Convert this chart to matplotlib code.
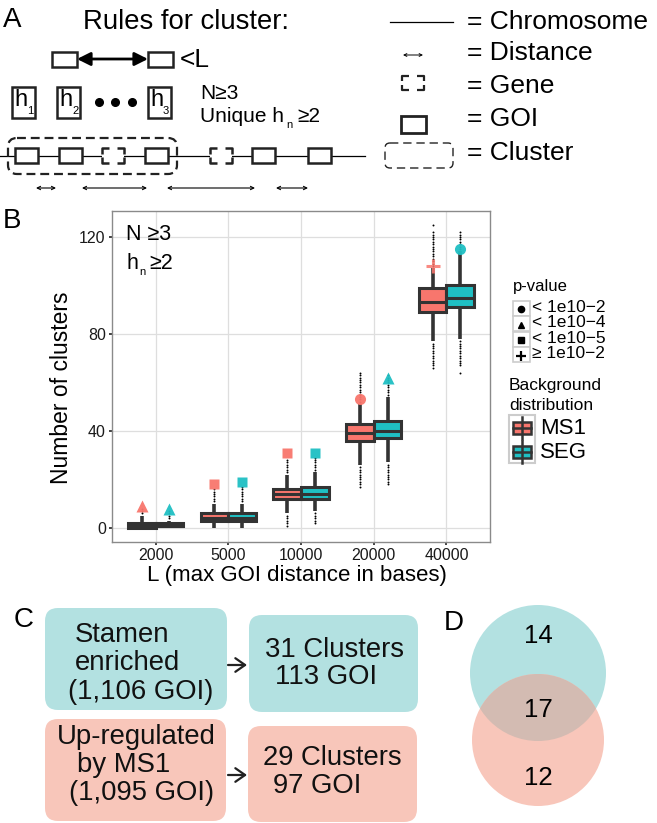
import numpy as np
import matplotlib
matplotlib.use('Agg')
import matplotlib.pyplot as plt
from matplotlib.patches import Rectangle, FancyBboxPatch, Circle

plt.rcParams['font.family'] = ['Liberation Sans', 'DejaVu Sans']
plt.rcParams['mathtext.default'] = 'regular'

# colours
MS1_COL = '#F8766D'
SEG_COL = '#1FBFC3'
DARK = '#333333'
TEAL_LIGHT = '#B3E1E1'
SALMON_LIGHT = '#F8C6BA'
OVERLAP = '#D3BBB2'

# ---- panel B data (number of clusters per max distance L) ----
L_labels = ['2000', '5000', '10000', '20000', '40000']

ms1_q1 = [0, 3, 12, 36, 89]
ms1_med = [1, 4, 14, 39, 93]
ms1_q3 = [2, 6, 16, 43, 99]
ms1_whislo = [0, 0, 6, 26, 77]
ms1_whishi = [5, 10, 22, 51, 107]
# outlier count ranges (low, high) -- counts are integers
ms1_out_low = [None, None, (1, 5), (17, 25), (66, 76)]
ms1_out_high = [(6, 8), (11, 16), (23, 28), (52, 64), (108, 122)]
ms1_out_extra = [[], [], [], [], [125]]

seg_q1 = [1, 3, 12, 37, 91]
seg_med = [1, 4, 14, 40, 95]
seg_q3 = [2, 6, 17, 44, 100]
seg_whislo = [0, 0, 7, 27, 78]
seg_whishi = [3, 10, 23, 54, 114]
seg_out_low = [None, None, (2, 6), (18, 26), (67, 77)]
seg_out_high = [(4, 7), (11, 17), (24, 29), (55, 63), (115, 122)]
seg_out_extra = [[], [], [], [], [64]]

# observed cluster counts with p-value class
ms1_obs = [9, 18, 31, 53, 108]
ms1_pclass = ['^', 's', 's', 'o', '+']
seg_obs = [8, 19, 31, 62, 115]
seg_pclass = ['^', 's', 's', '^', 'o']

p_labels = ['< 1e10\u22122', '< 1e10\u22124', '< 1e10\u22125', '\u2265 1e10\u22122']
p_markers = ['o', '^', 's', '+']

# ---- panel C / D data ----
venn_counts = [14, 17, 12]


def make_stats(q1, med, q3, lo, hi, out_low, out_high, extra):
    stats = []
    for i in range(len(q1)):
        fl = list(extra[i])
        for rng in (out_low[i], out_high[i]):
            if rng is not None:
                fl += list(range(rng[0], rng[1] + 1))
        stats.append(dict(q1=q1[i], med=med[i], q3=q3[i], whislo=lo[i],
                          whishi=hi[i], fliers=np.array(fl, dtype=float)))
    return stats


fig = plt.figure(figsize=(6.57, 8.23), dpi=100)

ov = fig.add_axes([0, 0, 1, 1])
ov.set_xlim(0, 657)
ov.set_ylim(823, 0)
ov.axis('off')

# ================= panel A =================
ov.text(3, 20, 'A', fontsize=20, va='center', ha='left')
ov.text(83, 22, 'Rules for cluster:', fontsize=19.8, va='center', ha='left')


def goi(x0, y0, w, h, lw=1.8, z=3):
    ov.add_patch(Rectangle((x0, y0), w, h, fc='white', ec='#222222', lw=lw,
                           zorder=z, joinstyle='miter'))


def gene(x0, y0, w, h, lw=1.8):
    ov.add_patch(Rectangle((x0, y0), w, h, fc='white', ec='none', zorder=3))
    aw, ah = w * 0.32, h * 0.38
    kw = dict(color='#222222', lw=lw, zorder=4, solid_capstyle='butt')
    for cx, dx in ((x0, 1), (x0 + w, -1)):
        for cy, dy in ((y0, 1), (y0 + h, -1)):
            ov.plot([cx + dx * aw, cx, cx], [cy, cy, cy + dy * ah], **kw)


# row: GOI <-> GOI < L
goi(52, 52, 25, 15)
goi(148, 52, 25, 15)
ov.annotate('', xy=(148, 59), xytext=(77, 59),
            arrowprops=dict(arrowstyle='<|-|>,head_length=0.5,head_width=0.25',
                            color='black', lw=2, shrinkA=0, shrinkB=0,
                            mutation_scale=16))
ov.text(180, 60, '<L', fontsize=19, va='center', ha='left')

# row: h1 h2 ... h3
for x0, sub in ((12, '1'), (57, '2'), (148, '3')):
    goi(x0, 87, 23, 31)
    ov.text(x0 + 2, 100, 'h', fontsize=17, va='center', ha='left', zorder=5)
    ov.text(x0 + 15, 111, sub, fontsize=8, va='center', ha='left', zorder=5)
ov.plot([99, 115, 132], [102, 102, 102], 'o', color='black', ms=5.5)
ov.text(200, 93, 'N\u22653', fontsize=15, va='center', ha='left')
ov.text(200, 116, 'Unique h', fontsize=15, va='center', ha='left')
ov.text(286, 125, 'n', fontsize=8, va='center', ha='left')
ov.text(297, 116, '\u22652', fontsize=15, va='center', ha='left')

# chromosome row
ov.plot([0, 365], [155.5, 155.5], color='black', lw=0.9, zorder=1)
for x0 in (15, 59, 145, 252, 308):
    goi(x0, 148, 23, 15)
for x0 in (102, 210):
    gene(x0, 148, 22, 15)
ov.add_patch(FancyBboxPatch((8, 138), 169, 36,
                            boxstyle='round,pad=0,rounding_size=9',
                            fill=False, ec='#222222', lw=1.6,
                            ls=(0, (4, 2.2)), zorder=5))
for xa, xb in ((36, 56), (82, 147), (167, 255), (276, 308)):
    ov.annotate('', xy=(xb, 188), xytext=(xa, 188),
                arrowprops=dict(arrowstyle='<->', color='black', lw=0.8,
                                shrinkA=0, shrinkB=0, mutation_scale=6))

# legend of panel A
ov.plot([390, 453], [22, 22], color='black', lw=0.9)
ov.text(467, 22, '= Chromosome', fontsize=19, va='center', ha='left')
ov.annotate('', xy=(423, 55), xytext=(403, 55),
            arrowprops=dict(arrowstyle='<->', color='black', lw=0.7,
                            shrinkA=0, shrinkB=0, mutation_scale=5))
ov.text(467, 53, '= Distance', fontsize=19, va='center', ha='left')
gene(402, 76, 22, 14, lw=1.6)
ov.text(467, 86, '= Gene', fontsize=19, va='center', ha='left')
goi(401, 116, 25, 17, lw=2)
ov.text(467, 119, '= GOI', fontsize=19, va='center', ha='left')
ov.add_patch(FancyBboxPatch((385, 143), 68, 25,
                            boxstyle='round,pad=0,rounding_size=5',
                            fill=False, ec='#222222', lw=1.0,
                            ls=(0, (6, 3.5))))
ov.text(467, 153, '= Cluster', fontsize=19, va='center', ha='left')

# ================= panel B =================
ov.text(3, 221, 'B', fontsize=20, va='center', ha='left')

ax = fig.add_axes([112 / 657, 1 - 542 / 823, (490 - 112) / 657, (542 - 211) / 823])
ax.set_xlim(0.4, 5.6)
ax.set_ylim(-5.8, 130.7)
ax.set_xticks(range(1, 6))
ax.set_xticklabels(L_labels)
ax.set_yticks([0, 40, 80, 120])
ax.grid(True, color='#DEDEDE', lw=0.9)
ax.set_axisbelow(True)
for sp in ax.spines.values():
    sp.set_color('#8A8A8A')
    sp.set_linewidth(1.0)
ax.tick_params(axis='both', length=2.5, width=1.2, color='#222222',
               labelsize=11.5, pad=2, labelcolor='#1A1A1A')

x = np.arange(1, 6)
bw = 0.38
for stats, off, col in ((make_stats(ms1_q1, ms1_med, ms1_q3, ms1_whislo, ms1_whishi,
                                    ms1_out_low, ms1_out_high, ms1_out_extra), -0.19, MS1_COL),
                        (make_stats(seg_q1, seg_med, seg_q3, seg_whislo, seg_whishi,
                                    seg_out_low, seg_out_high, seg_out_extra), 0.19, SEG_COL)):
    ax.bxp(stats, positions=x + off, widths=bw, patch_artist=True,
           showcaps=False,
           boxprops=dict(facecolor=col, edgecolor=DARK, linewidth=2.2),
           whiskerprops=dict(color=DARK, linewidth=2.6, solid_capstyle='butt'),
           medianprops=dict(color=DARK, linewidth=2.2),
           flierprops=dict(marker='o', markersize=1.4, markerfacecolor='black',
                           markeredgecolor='none'),
           manage_ticks=False)

for vals, marks, off, col in ((ms1_obs, ms1_pclass, -0.19, MS1_COL),
                              (seg_obs, seg_pclass, 0.19, SEG_COL)):
    for xi, v, m in zip(x, vals, marks):
        if m == '+':
            ax.plot(xi + off, v, marker='+', ms=10, mew=2.2, color=col,
                    alpha=0.85, zorder=5)
        else:
            ms = {'o': 8, 's': 7.5, '^': 8.5}[m]
            ax.plot(xi + off, v, marker=m, ms=ms, color=col, mec='none',
                    alpha=0.95, zorder=5)

ax.text(0.595, 121, 'N \u22653', fontsize=15.5, va='center', ha='left')
ax.text(0.595, 109, 'h', fontsize=15.5, va='center', ha='left')
ax.text(0.77, 105.5, 'n', fontsize=8, va='center', ha='left')
ax.text(0.92, 109, '\u22652', fontsize=15.5, va='center', ha='left')

ov.text(297, 576, 'L (max GOI distance in bases)', fontsize=16, va='center', ha='center')
ov.text(62, 388, 'Number of clusters', fontsize=16.5, va='center', ha='center',
        rotation=90)

# legend: p-value
ov.text(513, 287, 'p-value', fontsize=12, va='center', ha='left')
key_y = [308, 323.5, 339, 354.5]
for ky, m, lab in zip(key_y, p_markers, p_labels):
    ov.add_patch(Rectangle((512.5, ky - 7.5), 17, 15, fc='white', ec='#CCCCCC', lw=1.2))
    if m == '+':
        ov.plot(521, ky + 1, marker='+', ms=7, mew=1.6, color='black')
    else:
        ov.plot(521, ky + 1, marker=m, ms=4.5, color='black')
    ov.text(532, ky - 1, lab, fontsize=12.5, va='center', ha='left')

# legend: background distribution
ov.text(509, 385, 'Background', fontsize=12.5, va='center', ha='left')
ov.text(509, 405, 'distribution', fontsize=12.5, va='center', ha='left')
ov.add_patch(Rectangle((509, 415), 26, 48, fc='white', ec='#CCCCCC', lw=1.5))
for cy, col, lab in ((428, MS1_COL, 'MS1'), (452, SEG_COL, 'SEG')):
    ov.plot([522, 522], [cy - 11, cy + 11], color=DARK, lw=1.8)
    ov.add_patch(Rectangle((513, cy - 6), 18, 12, fc=col, ec=DARK, lw=1.8))
    ov.plot([513, 531], [cy, cy], color=DARK, lw=1.8)
    ov.text(540, cy, lab, fontsize=16, va='center', ha='left')

# ================= panel C =================
ov.text(14, 620, 'C', fontsize=20, va='center', ha='left')
for (x0, y0, w, h, col) in ((45, 608, 182, 102, TEAL_LIGHT),
                            (249, 615, 169, 97, TEAL_LIGHT),
                            (45, 719, 181, 102, SALMON_LIGHT),
                            (248, 726, 169, 96, SALMON_LIGHT)):
    ov.add_patch(FancyBboxPatch((x0, y0), w, h,
                                boxstyle='round,pad=0,rounding_size=13',
                                fc=col, ec='none'))

c_texts = [('Stamen', 75, 635), ('enriched', 75, 663), ('(1,106 GOI)', 68, 692),
           ('31 Clusters', 265, 650), ('113 GOI', 275, 677),
           ('Up-regulated', 57, 737), ('by MS1', 77, 765), ('(1,095 GOI)', 69, 793),
           ('29 Clusters', 263, 758), ('97 GOI', 273, 786)]
for t, tx, ty in c_texts:
    ov.text(tx, ty, t, fontsize=19.8, va='center', ha='left', color='#111111')
for ay in (665, 775):
    ov.annotate('', xy=(247, ay), xytext=(228, ay),
                arrowprops=dict(arrowstyle='->,head_length=0.5,head_width=0.35',
                                color='#222222', lw=1.6, shrinkA=0, shrinkB=0,
                                mutation_scale=14))

# ================= panel D =================
ov.text(444, 623, 'D', fontsize=20, va='center', ha='left')
top = Circle((538, 673), 68, fc=TEAL_LIGHT, ec='none')
ov.add_patch(top)
ov.add_patch(Circle((538, 740), 66, fc=SALMON_LIGHT, ec='none'))
inter = Circle((538, 740), 66, fc=OVERLAP, ec='none')
ov.add_patch(inter)
inter.set_clip_path(top)
for val, vy in zip(venn_counts, (636, 710, 778)):
    ov.text(538, vy, str(val), fontsize=18.5, va='center', ha='center')

fig.savefig('out.png', dpi=100)
